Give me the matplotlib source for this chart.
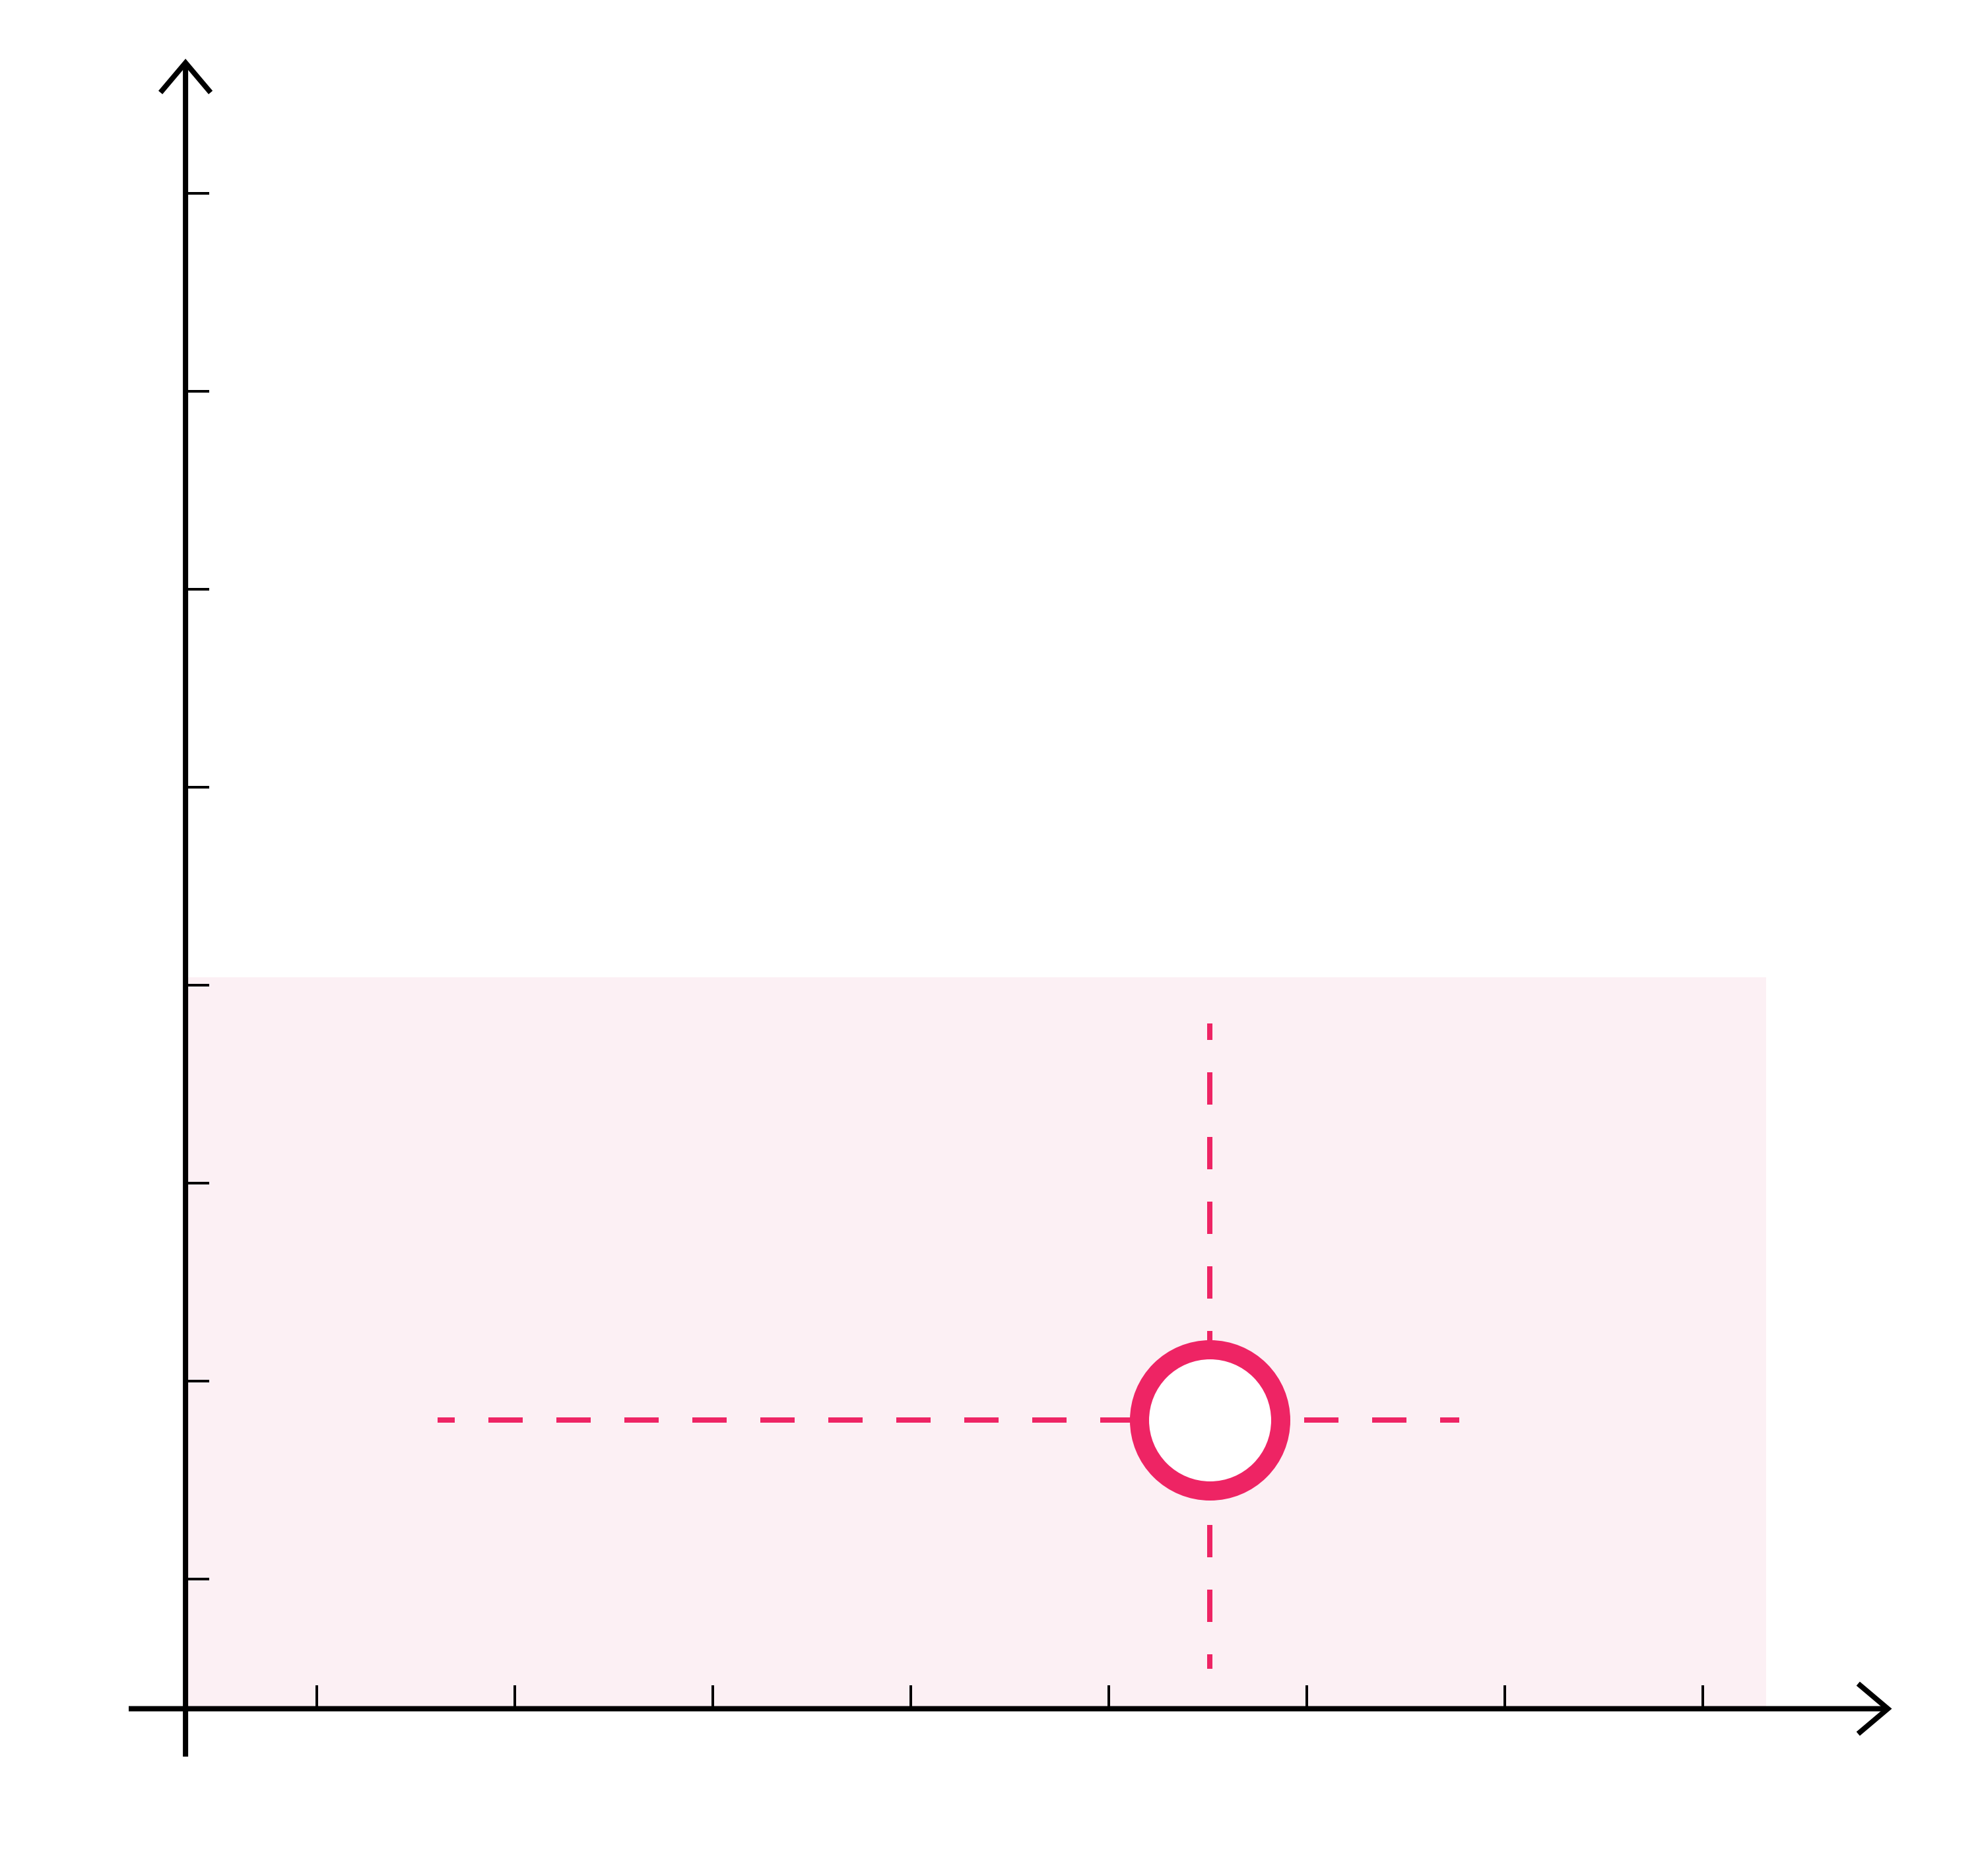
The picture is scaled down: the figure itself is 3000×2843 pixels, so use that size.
import matplotlib
matplotlib.use('Agg')
import matplotlib.pyplot as plt
from matplotlib.patches import FancyArrowPatch, ArrowStyle

# data
x_ticks = [1, 2, 3, 4, 5, 6, 7, 8]
y_ticks = [1, 2, 3, 4, 5, 6, 7, 8]
point_x = [5.51]
point_y = [1.805]
h_range_x = [1.61, 6.77]
v_range_y = [3.807, 0.547]
region_x = [0.337, 8.32]
region_y = [0.345, 4.04]
x_axis_span = [0.05, 8.955]
y_axis_span = [0.103, 8.68]

pink = '#ee2464'
shade = '#fcf0f4'
px = 72 / 300  # points per pixel at dpi 300

plt.rcParams['lines.scale_dashes'] = False

fig = plt.figure(figsize=(10, 2843 / 300), dpi=300)
ax = fig.add_axes([0, 0, 1, 1])
ax.set_xlim(-0.6, 9.4)
ax.set_ylim(-0.5, 1 + 2393 / 300)

for s in ax.spines.values():
    s.set_visible(False)
ax.spines['left'].set_position(('data', region_x[0]))
ax.spines['bottom'].set_position(('data', region_y[0]))

ax.set_xticks(x_ticks)
ax.set_yticks(y_ticks)
ax.tick_params(direction='in', length=36 * px, width=4 * px, color='black',
               labelbottom=False, labelleft=False, top=False, right=False)

ax.fill_between(region_x, region_y[0], region_y[1], color=shade, lw=0, zorder=1)

ax.plot(h_range_x, [point_y[0], point_y[0]], color=pink, lw=8 * px,
        linestyle=(26 * px, (52 * px, 51 * px)), solid_capstyle='butt',
        dash_capstyle='butt', zorder=2)
ax.plot([point_x[0], point_x[0]], v_range_y, color=pink, lw=8 * px,
        linestyle=(24 * px, (49 * px, 49 * px)), solid_capstyle='butt',
        dash_capstyle='butt', zorder=2)

ax.plot(point_x, point_y, 'o', ms=214 * px, mew=29 * px, mfc='white',
        mec=pink, zorder=4)

style = ArrowStyle('->', head_length=45 * px, head_width=38 * px)
xa = FancyArrowPatch((x_axis_span[0], region_y[0]), (x_axis_span[1], region_y[0]),
                     arrowstyle=style, mutation_scale=1, lw=8 * px, color='black',
                     joinstyle='miter', capstyle='butt', shrinkA=0, shrinkB=0,
                     zorder=5, clip_on=False)
ya = FancyArrowPatch((region_x[0], y_axis_span[0]), (region_x[0], y_axis_span[1]),
                     arrowstyle=style, mutation_scale=1, lw=8 * px, color='black',
                     joinstyle='miter', capstyle='butt', shrinkA=0, shrinkB=0,
                     zorder=5, clip_on=False)
ax.add_patch(xa)
ax.add_patch(ya)

plt.savefig('out.png', dpi=300)
plt.close()
